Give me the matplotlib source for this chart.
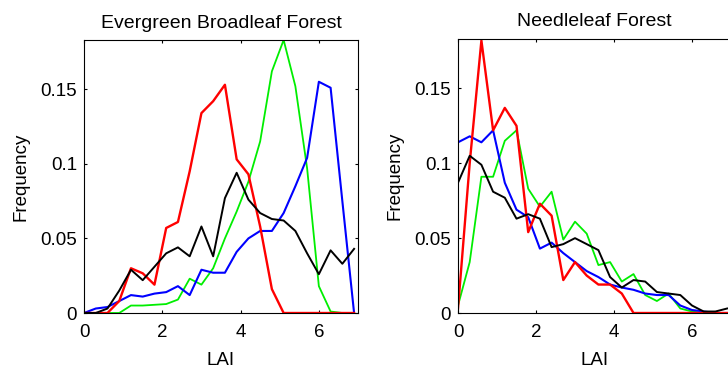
import numpy as np
import matplotlib
matplotlib.use("Agg")
import matplotlib.pyplot as plt

plt.rcParams['font.family'] = ['Liberation Sans', 'DejaVu Sans']

# LAI bin centres shared by both panels
lai = [0.0, 0.3, 0.6, 0.9, 1.2, 1.5, 1.8, 2.1, 2.4, 2.7, 3.0, 3.3,
       3.6, 3.9, 4.2, 4.5, 4.8, 5.1, 5.4, 5.7, 6.0, 6.3, 6.6, 6.9]

# Evergreen broadleaf forest
ebf_red = [0, 0, 0, 0.008, 0.030, 0.0266, 0.019, 0.057, 0.061, 0.095, 0.134, 0.142,
           0.153, 0.103, 0.093, 0.058, 0.016, 0, 0, 0, 0, 0, 0, 0]
ebf_green = [0, 0, 0, 0, 0.005, 0.005, 0.0055, 0.006, 0.009, 0.023, 0.019, 0.030,
             0.050, 0.068, 0.088, 0.115, 0.162, 0.183, 0.152, 0.097, 0.018, 0.001, 0, 0]
ebf_blue = [0, 0.003, 0.004, 0.008, 0.012, 0.011, 0.013, 0.014, 0.018, 0.012, 0.029, 0.027,
            0.027, 0.041, 0.050, 0.055, 0.055, 0.067, 0.085, 0.104, 0.155, 0.151, 0.075, 0]
ebf_black = [0, 0, 0.003, 0.015, 0.029, 0.022, 0.031, 0.040, 0.044, 0.038, 0.058, 0.038,
             0.077, 0.094, 0.076, 0.067, 0.063, 0.062, 0.055, 0.040, 0.026, 0.042, 0.033, 0.043]

# Needleleaf forest
nlf_red = [0.003, 0.100, 0.182, 0.122, 0.137, 0.125, 0.054, 0.073, 0.065, 0.022, 0.034, 0.025,
           0.019, 0.019, 0.013, 0, 0, 0, 0, 0, 0, 0, 0, 0]
nlf_green = [0.005, 0.034, 0.091, 0.091, 0.115, 0.122, 0.083, 0.071, 0.081, 0.049, 0.061, 0.053,
             0.032, 0.034, 0.021, 0.026, 0.012, 0.008, 0.013, 0.003, 0.001, 0, 0, 0]
nlf_blue = [0.114, 0.118, 0.114, 0.122, 0.087, 0.069, 0.064, 0.043, 0.047, 0.040, 0.034, 0.028,
            0.024, 0.019, 0.017, 0.0155, 0.013, 0.012, 0.012, 0.005, 0.002, 0.001, 0, 0]
nlf_black = [0.087, 0.105, 0.099, 0.081, 0.077, 0.063, 0.066, 0.063, 0.044, 0.046, 0.050, 0.046,
             0.042, 0.024, 0.017, 0.022, 0.021, 0.014, 0.013, 0.012, 0.005, 0.001, 0.001, 0.003]

titles = ["Evergreen Broadleaf Forest", "Needleleaf Forest"]
xticks = [0, 2, 4, 6]
yticks = [0, 0.05, 0.1, 0.15]
yticklabels = ["0", "0.05", "0.1", "0.15"]

fig = plt.figure(figsize=(7.28, 3.70), dpi=100)
ax1 = fig.add_axes([84 / 728, 57 / 370, 274 / 728, 273 / 370])
ax2 = fig.add_axes([458 / 728, 57 / 370, 273 / 728, 274 / 370])

panels = [
    (ax1, ebf_red, ebf_green, ebf_blue, ebf_black),
    (ax2, nlf_red, nlf_green, nlf_blue, nlf_black),
]

for (ax, r, g, b, k), title in zip(panels, titles):
    ax.plot(lai, g, color="#00ee00", lw=1.3)
    ax.plot(lai, b, color="#0000ff", lw=1.5)
    ax.plot(lai, r, color="#ff0000", lw=1.7)
    ax.plot(lai, k, color="black", lw=1.4)
    ax.set_xlim(0, 7)
    ax.set_ylim(0, 0.183)
    ax.set_xticks(xticks)
    ax.set_yticks(yticks)
    ax.set_yticklabels(yticklabels)
    ax.tick_params(direction="in", top=True, right=True, labelsize=13.5,
                   length=2.5, width=0.8, pad=5)
    ax.tick_params(axis="x", pad=8)
    for s in ax.spines.values():
        s.set_linewidth(0.8)
    ax.set_title(title, fontsize=14, pad=9)
    ax.set_xlabel("LAI", fontsize=13.5, labelpad=8)
    ax.set_ylabel("Frequency", fontsize=13.5, labelpad=8)

fig.savefig("out.png", dpi=100)
